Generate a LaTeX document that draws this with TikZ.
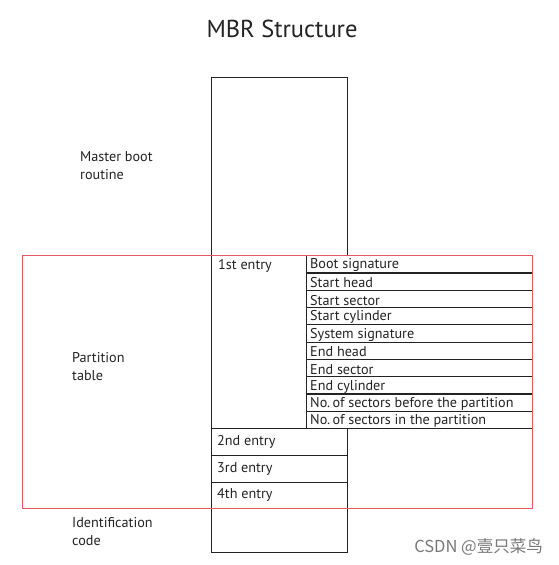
\documentclass[tikz,border=0pt]{standalone}
\usepackage{fontspec}
\setmainfont{PT Sans}
\newfontfamily\cjkfont{Noto Sans CJK SC}
\definecolor{linegray}{RGB}{35,35,35}
\definecolor{boxred}{RGB}{225,90,95}
\definecolor{txtgray}{RGB}{35,35,35}
\definecolor{wmgray}{RGB}{120,120,120}
\begin{document}
\begin{tikzpicture}[x=1pt,y=-1pt,
  cell/.style={draw=linegray, line width=1.2pt, inner sep=0pt, anchor=north west},
  txt/.style={font=\fontsize{14.2}{18}\selectfont, text=txtgray, inner sep=0pt},
  side/.style={txt, align=left, anchor=north west},
  redbox/.style={draw=boxred, line width=1.2pt}]
\useasboundingbox (0,0) rectangle (558,565);
% title
\node[font=\fontsize{24.5}{28}\selectfont, text=txtgray, inner sep=0pt] (title) at (282,29) {MBR Structure};
% main column
\node[cell, minimum width=136pt, minimum height=178pt] (boot) at (211,77) {};
\node[cell, minimum width=95pt, minimum height=173pt] (e1) at (211,255) {};
\node[txt, anchor=north west] (e1t) at (218,259) {1st entry};
\foreach \i/\t in {1/Boot signature,2/Start head,3/Start sector,4/Start cylinder,5/System signature,6/End head,7/End sector,8/End cylinder,9/No.\,of sectors before the partition,10/No.\,of sectors in the partition}{
  \node[cell, minimum width=226pt, minimum height=17.3pt] (r\i) at (306,{255+(\i-1)*17.3}) {};
  \node[txt, anchor=west] (r\i t) at ([xshift=4pt,yshift=-1.2pt]r\i.west) {\t};
}
\node[cell, minimum width=136pt, minimum height=27pt] (e2) at (211,428) {};
\node[txt, anchor=west] (e2t) at ([xshift=6pt]e2.west) {2nd entry};
\node[cell, minimum width=136pt, minimum height=26.5pt] (e3) at (211,455) {};
\node[txt, anchor=west] (e3t) at ([xshift=6pt]e3.west) {3rd entry};
\node[cell, minimum width=136pt, minimum height=26.5pt] (e4) at (211,481.5) {};
\node[txt, anchor=west] (e4t) at ([xshift=6pt]e4.west) {4th entry};
\node[cell, minimum width=136pt, minimum height=44pt] (idc) at (211,508) {};
% red partition table frame
\node[redbox, inner sep=0pt, minimum width=510pt, minimum height=253pt, anchor=north west] (pt) at (22,255) {};
% side labels
\node[side] (mbr) at (80,151.5) {Master boot\\routine};
\node[side] (ptl) at (72,352.5) {Partition\\table};
\node[side] (idl) at (72,517.5) {Identification\\code};
% watermark
\node[font=\cjkfont\fontsize{16.5}{18}\selectfont, text=wmgray, inner sep=0pt, anchor=east] (wm) at (543,547) {CSDN @壹只菜鸟};
\end{tikzpicture}
\end{document}
